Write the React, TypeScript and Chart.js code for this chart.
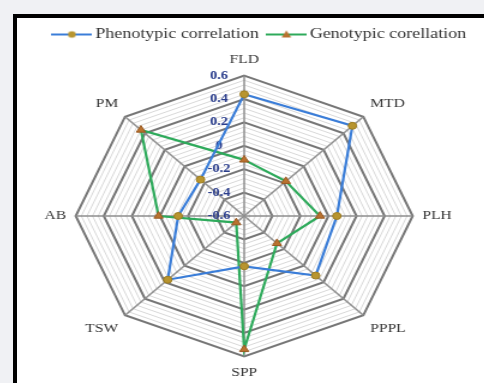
import React, { useEffect, useRef } from 'react';
import { Chart, registerables } from 'chart.js';

Chart.register(...registerables);

const categories = ['FLD', 'MTD', 'PLH', 'PPPL', 'SPP', 'TSW', 'AB', 'PM'];
const phenotypic = [0.44, 0.49, 0.06, 0.12, -0.17, 0.17, -0.13, -0.16];
const genotypic = [-0.12, -0.18, -0.06, -0.27, 0.54, -0.52, 0.01, 0.44];
const seriesNames = ['Phenotypic correlation', 'Genotypic corellation'];
const scaleMin = -0.6;
const scaleMax = 0.6;
const minorStep = 0.04;
const minorPerMajor = 5;
const gridCount = Math.round((scaleMax - scaleMin) / minorStep) + 1;

const BLUE = '#3a7dd8';
const GREEN = '#2eaa5b';
const GOLD = '#b8952f';
const BROWN = '#b9722f';

const isMajor = (v: number) => Math.round((v - scaleMin) / minorStep) % minorPerMajor === 0;
const fmt = (v: number) => {
  const r = Math.round(v * 10) / 10;
  return (Object.is(r, -0) ? 0 : r).toString();
};

function makeIcon(line: string, marker: string, shape: 'circle' | 'triangle') {
  const c = document.createElement('canvas');
  c.width = 34;
  c.height = 12;
  const g = c.getContext('2d')!;
  g.strokeStyle = line;
  g.lineWidth = 2;
  g.beginPath();
  g.moveTo(0, 6);
  g.lineTo(34, 6);
  g.stroke();
  g.fillStyle = marker;
  g.beginPath();
  if (shape === 'circle') {
    g.arc(17, 6, 3.2, 0, Math.PI * 2);
  } else {
    g.moveTo(17, 2);
    g.lineTo(21, 9);
    g.lineTo(13, 9);
    g.closePath();
  }
  g.fill();
  return c;
}

export default function App() {
  const ref = useRef<HTMLCanvasElement | null>(null);

  useEffect(() => {
    if (!ref.current) return;
    const icons = [makeIcon(BLUE, GOLD, 'circle'), makeIcon(GREEN, BROWN, 'triangle')];
    const serif = 'Liberation Serif';
    const chart = new Chart(ref.current, {
      type: 'radar',
      data: {
        labels: categories,
        datasets: [
          {
            label: seriesNames[0],
            data: phenotypic,
            borderColor: BLUE,
            backgroundColor: 'transparent',
            fill: false,
            borderWidth: 2.2,
            pointStyle: 'circle',
            pointRadius: 3.5,
            pointBackgroundColor: GOLD,
            pointBorderColor: '#9c7c22',
            pointBorderWidth: 1,
          },
          {
            label: seriesNames[1],
            data: genotypic,
            borderColor: GREEN,
            backgroundColor: 'transparent',
            fill: false,
            borderWidth: 2.2,
            pointStyle: 'triangle',
            pointRadius: 4.4,
            pointBackgroundColor: BROWN,
            pointBorderColor: '#9a5a22',
            pointBorderWidth: 1,
          },
        ],
      },
      options: {
        responsive: false,
        animation: false,
        layout: { padding: { top: 0, bottom: 0, left: 0, right: 0 } },
        plugins: {
          tooltip: { enabled: false },
          legend: {
            position: 'top',
            align: 'end',
            labels: {
              usePointStyle: true,
              pointStyleWidth: 24,
              padding: 11,
              color: '#333',
              font: { family: serif, size: 15 },
              generateLabels: (ch: any) => {
                const items = (Chart.defaults.plugins.legend.labels as any).generateLabels(ch);
                return items.map((it: any, i: number) => ({ ...it, pointStyle: icons[i] }));
              },
            },
          },
        },
        scales: {
          r: {
            min: scaleMin,
            max: scaleMax,
            ticks: {
              count: gridCount,
              autoSkip: false,
              showLabelBackdrop: false,
              backdropPadding: 0,
              color: '#2a3d8c',
              font: { family: serif, size: 12, weight: 'bold' },
              callback: (v: any) => (isMajor(Number(v)) ? fmt(Number(v)) + '              ' : ''),
            },
            grid: {
              color: (ctx: any) => (isMajor(ctx.tick.value) ? '#767676' : '#d8d8d8'),
              lineWidth: (ctx: any) => (isMajor(ctx.tick.value) ? 2 : 1),
            },
            angleLines: { color: '#8e8e8e', lineWidth: 1.5 },
            pointLabels: {
              color: '#333',
              padding: 2,
              font: { family: serif, size: 13 },
            },
          },
        },
      } as any,
    });
    return () => chart.destroy();
  }, []);

  return (
    <div
      style={{
        position: 'fixed',
        left: 0,
        top: 0,
        width: 484,
        height: 383,
        overflow: 'hidden',
        background: '#f0f1f4',
      }}
    >
      <div
        style={{
          position: 'absolute',
          left: 13,
          top: 14,
          right: 0,
          bottom: 0,
          borderLeft: '4px solid #000',
          borderTop: '4px solid #000',
          background: '#fff',
        }}
      />
      <div
        style={{
          position: 'absolute',
          left: 9,
          top: 16,
          width: 392,
          height: 365,
          transform: 'scaleX(1.2)',
          transformOrigin: '0 0',
        }}
      >
        <canvas ref={ref} width={392} height={365} style={{ display: 'block' }} />
      </div>
    </div>
  );
}
